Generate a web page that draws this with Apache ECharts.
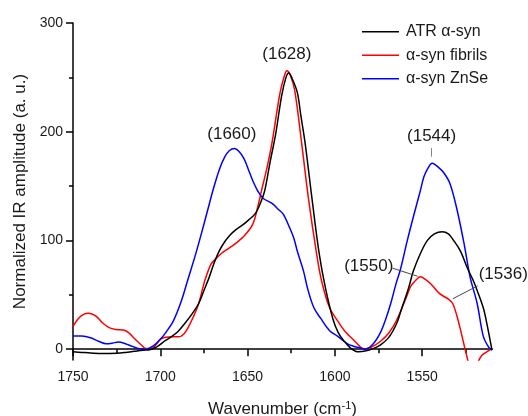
<!DOCTYPE html>
<html>
<head>
<meta charset="utf-8">
<script src="https://cdn.jsdelivr.net/npm/echarts@6/dist/echarts.min.js"></script>
<style>
  html, body { margin: 0; padding: 0; background: #fff; }
  #chart { width: 528px; height: 416px; }
</style>
</head>
<body>
<div id="chart"></div>
<script>
// [wavenumber, amplitude]
const atrAlphaSyn = [
  [1750, -2.5], [1745, -3], [1740, -3.5], [1733, -4], [1725, -3.7], [1720, -3],
  [1715, -2], [1710, -1], [1706, -0.5], [1702, 2], [1697, 8], [1694, 11],
  [1690, 16], [1686, 23.5], [1682, 32], [1678, 42], [1675, 54], [1672, 66],
  [1669, 80], [1666, 91], [1663, 99], [1660, 105], [1657, 109.5], [1653, 114],
  [1649.5, 118.7], [1645.5, 124.8], [1642, 137], [1640, 147], [1637, 173], [1634, 197],
  [1630.5, 233], [1628, 250], [1626.5, 254], [1624.5, 249], [1621.5, 236], [1619.5, 215],
  [1617, 189], [1613, 137], [1609, 88], [1605.5, 57], [1601, 27], [1598, 15],
  [1595, 8], [1591, 1], [1586.5, -2.5], [1582, -1.5], [1578, 0.5], [1574, 3.7],
  [1569, 11], [1564.5, 24], [1562, 36], [1558, 55], [1555, 72], [1551, 88],
  [1547, 100], [1543, 106], [1538.5, 108], [1535, 106], [1532, 100], [1528, 90],
  [1524.5, 76], [1521, 64], [1518.5, 54], [1515, 38], [1513, 24], [1510, -1]
];

const fibrils = [
  [1750, 21], [1747, 28], [1744, 32], [1741, 33], [1737, 30.5], [1733, 24],
  [1729, 19.5], [1725, 18], [1721, 17.5], [1718, 15], [1715, 10], [1711, 4],
  [1708, 0.5], [1705, 0.5], [1702, 5], [1700, 9], [1697, 11], [1693, 11.3],
  [1689.5, 11.3], [1686.5, 14], [1684, 20], [1681, 30], [1678, 42], [1674.5, 63],
  [1671, 78], [1668, 83.5], [1665, 88], [1661, 92.5], [1657, 97], [1651.5, 105],
  [1647, 115], [1644, 132], [1642, 146], [1639, 166], [1636, 190], [1631.5, 235],
  [1629, 251], [1627.5, 256], [1625.5, 252], [1623, 238], [1619, 189], [1615, 137],
  [1610.5, 88], [1607.5, 62], [1603, 38], [1598, 25], [1594, 16], [1589, 8],
  [1586, 3], [1583.5, 0], [1579, 2], [1574, 7], [1569, 15], [1564.5, 27],
  [1559, 48], [1556.5, 58], [1553, 64.5], [1551, 66.5], [1548, 64], [1545, 60],
  [1540, 51], [1535, 46], [1532.5, 42], [1530, 30], [1528, 17.5], [1524.5, -6],
  [1521, -25], [1518, -12], [1516, -6], [1513, -2.5], [1510, 0.5]
];

const znse = [
  [1750, 12], [1745, 12], [1740, 10.5], [1735, 7], [1731, 5], [1727.5, 5.5],
  [1724, 6.5], [1720, 5], [1716, 2.5], [1712, 0.3], [1708, 0], [1704, 3],
  [1700, 9], [1697, 15], [1692.5, 26], [1688, 44], [1684, 65], [1680, 86],
  [1676.5, 106], [1673, 127], [1669.5, 148], [1666, 166], [1663, 177], [1660.5, 182.5],
  [1657.5, 184.6], [1655, 182], [1652, 175], [1649, 163], [1646.5, 153], [1644, 145],
  [1641, 138.6], [1636, 134], [1632, 128], [1629.5, 124], [1626, 112], [1623.5, 102],
  [1621.5, 90], [1618, 72], [1615.5, 55], [1612, 38], [1608, 28], [1603, 17],
  [1598.5, 12], [1593, 5], [1589, 2.5], [1585, 1], [1582.5, 0], [1578, 5],
  [1574, 15], [1571, 27], [1568, 42], [1565, 60], [1562.5, 73], [1558.5, 100],
  [1555, 122], [1551, 146], [1549, 158.5], [1546.5, 167], [1544.3, 171], [1540.5, 167],
  [1537.5, 162], [1534, 152], [1530, 128], [1526, 97], [1522.5, 66], [1518.5, 42],
  [1515, 12], [1512, 2], [1510, -1]
];

const seriesNames = ["ATR α-syn", "α-syn fibrils", "α-syn ZnSe"];
const seriesColors = ["#000000", "#ff0000", "#0000ff"];

const xMajorTicks = [1750, 1700, 1650, 1600, 1550];
const xMinorTicks = [1725, 1675, 1625, 1575, 1525];
const yMajorTicks = [0, 100, 200, 300];
const yMinorTicks = [50, 150, 250];

// peak annotations: [label, wavenumber, amplitude]
const fibrilsPeaks = [["(1628)", 1627.5, 271.5], ["(1550)", 1580.6, 76.5]];
const znsePeaks = [["(1660)", 1659, 198], ["(1544)", 1544.6, 195.5]];
const leaderLines = [
  { from: [1544.9, 185], to: [1544.9, 177], color: "#888" },
  { from: [1567, 74.5], to: [1552.6, 67], color: "#444" },
  { from: [1532.5, 46.3], to: [1518.2, 58.2], color: "#444" }
];

const FONT = "'Liberation Sans', Arial, sans-serif";
const TEXT = "#1a1a1a";

const chart = echarts.init(document.getElementById("chart"), null, { renderer: "canvas" });

function peakMarks(list) {
  return list.map(([name, x, y]) => ({ name, coord: [x, y] }));
}

const markLabel = {
  show: true,
  position: "inside",
  formatter: "{b}",
  color: TEXT,
  fontSize: 17,
  fontFamily: FONT
};

const series = [atrAlphaSyn, fibrils, znse].map((data, i) => ({
  name: seriesNames[i],
  type: "line",
  data,
  smooth: 0.35,
  symbol: "none",
  clip: true,
  itemStyle: { color: seriesColors[i] },
  lineStyle: { color: seriesColors[i], width: 1.5 },
  z: i === 0 ? 4 : 3
}));

series[1].markPoint = {
  symbolSize: 0,
  silent: true,
  label: markLabel,
  data: peakMarks(fibrilsPeaks)
};
series[2].markPoint = {
  symbolSize: 0,
  silent: true,
  label: markLabel,
  data: peakMarks(znsePeaks).concat([
    { name: "(1536)", coord: [1515, 68.5], label: { offset: [20, 0] } }
  ])
};
series[0].markLine = {
  silent: true,
  symbol: "none",
  label: { show: false },
  data: leaderLines.map((l) => [
    { coord: l.from, lineStyle: { color: l.color, width: 1, type: "solid" } },
    { coord: l.to }
  ])
};

const plainNumber = (value) => String(value);

chart.setOption({
  animation: false,
  textStyle: { fontFamily: FONT },
  grid: { left: 73, right: 36, top: 23, bottom: 56, containLabel: false, outerBoundsMode: "none" },
  legend: {
    orient: "vertical",
    left: 357,
    top: 17,
    icon: "rect",
    itemWidth: 37,
    itemHeight: 1.5,
    itemGap: 4,
    selectedMode: false,
    data: seriesNames,
    textStyle: { fontSize: 16, color: TEXT, lineHeight: 19.5, padding: [0, 0, 0, 2], fontFamily: FONT }
  },
  xAxis: [
    {
      type: "value",
      min: 1510,
      max: 1750,
      inverse: true,
      position: "bottom",
      name: "Wavenumber (cm{sup|-1})",
      nameLocation: "middle",
      nameGap: 40,
      nameTextStyle: {
        fontSize: 17,
        color: TEXT,
        fontFamily: FONT,
        rich: { sup: { fontSize: 11, verticalAlign: "top", padding: [0, 0, 8, 0], color: TEXT } }
      },
      axisLine: { show: true, lineStyle: { color: "#000", width: 1.5 } },
      axisTick: { show: true, length: 7, customValues: xMajorTicks, lineStyle: { color: "#000", width: 1.5 } },
      axisLabel: { customValues: xMajorTicks, formatter: plainNumber, margin: 10, fontSize: 14, color: TEXT, fontFamily: FONT },
      splitLine: { show: false }
    },
    {
      type: "value",
      min: 1510,
      max: 1750,
      inverse: true,
      position: "bottom",
      axisLine: { show: false },
      axisTick: { show: true, length: 4, customValues: xMinorTicks, lineStyle: { color: "#000", width: 1.5 } },
      axisLabel: { show: false },
      splitLine: { show: false }
    }
  ],
  yAxis: [
    {
      type: "value",
      min: -10,
      max: 300,
      position: "left",
      name: "Normalized IR amplitude (a. u.)",
      nameLocation: "middle",
      nameGap: 44,
      nameTextStyle: { fontSize: 17, color: TEXT, fontFamily: FONT },
      axisLine: { show: true, lineStyle: { color: "#000", width: 1.5 } },
      axisTick: { show: true, length: 7, customValues: yMajorTicks, lineStyle: { color: "#000", width: 1.5 } },
      axisLabel: { customValues: yMajorTicks, formatter: plainNumber, margin: 10, fontSize: 14, color: TEXT, fontFamily: FONT },
      splitLine: { show: false }
    },
    {
      type: "value",
      min: -10,
      max: 300,
      position: "left",
      axisLine: { show: false },
      axisTick: { show: true, length: 4, customValues: yMinorTicks, lineStyle: { color: "#000", width: 1.5 } },
      axisLabel: { show: false },
      splitLine: { show: false }
    }
  ],
  series
});
</script>
</body>
</html>
